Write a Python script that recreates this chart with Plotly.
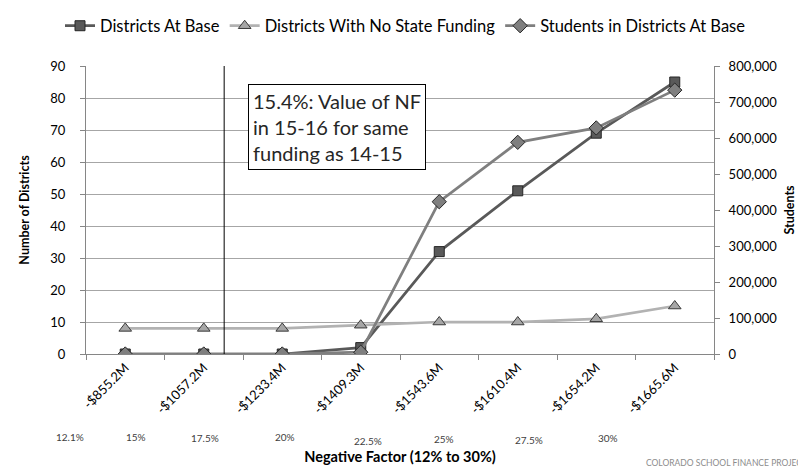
import plotly.graph_objects as go

categories = ["-$855.2M", "-$1057.2M", "-$1233.4M", "-$1409.3M",
              "-$1543.6M", "-$1610.4M", "-$1654.2M", "-$1665.6M"]
districts_at_base = [0, 0, 0, 2, 32, 51, 69, 85]
districts_no_state_funding = [8, 8, 8, 9, 10, 10, 11, 15]
students_at_base = [0, 0, 0, 5000, 423000, 588000, 628000, 733000]
nf_labels = ["12.1%", "15%", "17.5%", "20%", "22.5%", "25%", "27.5%", "30%"]
nf_label_px = [62, 128, 197, 277, 360, 436, 521, 600]
nf_label_py = [429, 429, 430, 429, 433, 431, 432, 430]
note_text = "15.4%: Value of NF<br>in 15-16 for same<br>funding as 14-15"
note_nf_position = 1.26  # category-axis position of 15.4%

FONT = "Lato, 'Open Sans', sans-serif"
AXIS_GREY = "#868686"
GRID = "#A6A6A6"

fig = go.Figure()
fig.add_trace(go.Scatter(
    x=categories, y=districts_at_base, name="Districts At Base",
    mode="lines+markers",
    line=dict(color="#595959", width=2.75),
    marker=dict(symbol="square", size=10, color="#595959",
                line=dict(color="#262626", width=1)),
))
fig.add_trace(go.Scatter(
    x=categories, y=districts_no_state_funding, name="Districts With No State Funding",
    mode="lines+markers",
    line=dict(color="#B2B2B2", width=2.75),
    marker=dict(symbol="triangle-up", size=11, color="#A6A6A6",
                line=dict(color="#3A3A3A", width=1)),
))
fig.add_trace(go.Scatter(
    x=categories, y=students_at_base, name="Students in Districts At Base",
    mode="lines+markers", yaxis="y2",
    line=dict(color="#7F7F7F", width=2.75),
    marker=dict(symbol="diamond", size=11, color="#7F7F7F",
                line=dict(color="#262626", width=1)),
))

L, R, T, B = 78, 100, 58, 121
W, H = 806, 467
pw, ph = W - L - R, H - T - B

annotations = []
for txt, px, py in zip(nf_labels, nf_label_px, nf_label_py):
    annotations.append(dict(
        text=txt, x=(px - L) / pw, y=(H - B - py) / ph, xref="paper", yref="paper",
        xanchor="center", yanchor="middle", showarrow=False,
        font=dict(size=10, color="#404040", family=FONT)))

annotations.append(dict(
    text=note_text, x=(329 - L) / pw, y=(H - B - 119) / ph, xref="paper", yref="paper",
    xanchor="center", yanchor="middle", showarrow=False, align="left",
    font=dict(size=20, color="#262626", family=FONT),
    bordercolor="#000000", borderwidth=1, borderpad=4, bgcolor="#FFFFFF"))

annotations.append(dict(
    text="COLORADO SCHOOL FINANCE PROJECT", x=1 + (801 - (W - R)) / pw,
    y=(H - B - 455) / ph, xref="paper", yref="paper",
    xanchor="right", yanchor="middle", showarrow=False,
    font=dict(size=8.5, color="#8C8C8C", family=FONT)))

fig.update_layout(
    width=W, height=H,
    margin=dict(l=L, r=R, t=T, b=B, autoexpand=False),
    paper_bgcolor="white", plot_bgcolor="white",
    font=dict(family=FONT, size=13, color="#000000"),
    showlegend=True,
    legend=dict(orientation="h", x=(52 - L) / pw, xanchor="left",
                y=1 + (T - 18) / ph, yanchor="middle",
                font=dict(size=16.5, family=FONT), itemwidth=30,
                bgcolor="rgba(0,0,0,0)", tracegroupgap=0),
    xaxis=dict(
        type="category", range=[-0.5, 7.5], tickson="boundaries",
        ticks="outside", ticklen=5, tickcolor=AXIS_GREY,
        showline=True, linecolor=AXIS_GREY, linewidth=1,
        showgrid=False, zeroline=False, tickangle=-45,
        tickfont=dict(size=13, family=FONT),
        title=dict(text="<b>Negative Factor (12% to 30%)</b>", standoff=35,
                   font=dict(size=14.5, family=FONT)),
        automargin=False,
    ),
    yaxis=dict(
        range=[0, 90], dtick=10, showgrid=True, gridcolor=GRID, gridwidth=1,
        showline=True, linecolor=AXIS_GREY, ticks="outside", ticklen=5,
        tickcolor=AXIS_GREY, zeroline=False, tickfont=dict(size=13),
        ticklabelstandoff=12,
        title=dict(text="<b>Number of Districts</b>", standoff=17,
                   font=dict(size=12.5)),
        automargin=False,
    ),
    yaxis2=dict(
        range=[0, 800000], dtick=100000, tickformat=",", overlaying="y",
        side="right", showgrid=False, showline=True, linecolor=AXIS_GREY,
        ticks="outside", ticklen=5, tickcolor=AXIS_GREY, zeroline=False,
        tickfont=dict(size=13), ticklabelstandoff=6,
        title=dict(text="<b>Students</b>", standoff=8, font=dict(size=12.5)),
        automargin=False,
    ),
    shapes=[dict(type="line", xref="x", yref="paper",
                 x0=note_nf_position, x1=note_nf_position, y0=0, y1=1,
                 line=dict(color="#000000", width=1))],
    annotations=annotations,
)

fig.write_html("out.html")
